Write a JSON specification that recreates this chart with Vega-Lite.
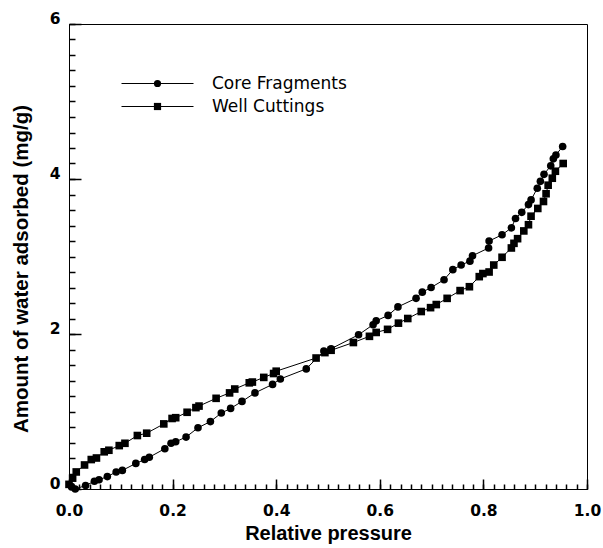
{
  "$schema": "https://vega.github.io/schema/vega-lite/v6.json",
  "autosize": {"type": "none"},
  "width": 518,
  "height": 465,
  "padding": {"left": 69, "top": 24, "right": 16, "bottom": 59},
  "background": "white",
  "data": {"values": [
    {"s": "Core Fragments", "i": 1, "x": 0.005, "y": 0.03},
    {"s": "Core Fragments", "i": 2, "x": 0.012, "y": 0.0},
    {"s": "Core Fragments", "i": 3, "x": 0.032, "y": 0.045},
    {"s": "Core Fragments", "i": 4, "x": 0.049, "y": 0.10},
    {"s": "Core Fragments", "i": 5, "x": 0.058, "y": 0.12},
    {"s": "Core Fragments", "i": 6, "x": 0.074, "y": 0.16},
    {"s": "Core Fragments", "i": 7, "x": 0.091, "y": 0.22},
    {"s": "Core Fragments", "i": 8, "x": 0.103, "y": 0.24},
    {"s": "Core Fragments", "i": 9, "x": 0.129, "y": 0.33},
    {"s": "Core Fragments", "i": 10, "x": 0.146, "y": 0.38},
    {"s": "Core Fragments", "i": 11, "x": 0.155, "y": 0.41},
    {"s": "Core Fragments", "i": 12, "x": 0.185, "y": 0.52},
    {"s": "Core Fragments", "i": 13, "x": 0.197, "y": 0.59},
    {"s": "Core Fragments", "i": 14, "x": 0.206, "y": 0.61},
    {"s": "Core Fragments", "i": 15, "x": 0.226, "y": 0.67},
    {"s": "Core Fragments", "i": 16, "x": 0.249, "y": 0.79},
    {"s": "Core Fragments", "i": 17, "x": 0.273, "y": 0.87},
    {"s": "Core Fragments", "i": 18, "x": 0.294, "y": 0.98},
    {"s": "Core Fragments", "i": 19, "x": 0.312, "y": 1.04},
    {"s": "Core Fragments", "i": 20, "x": 0.334, "y": 1.13},
    {"s": "Core Fragments", "i": 21, "x": 0.359, "y": 1.24},
    {"s": "Core Fragments", "i": 22, "x": 0.393, "y": 1.35},
    {"s": "Core Fragments", "i": 23, "x": 0.408, "y": 1.42},
    {"s": "Core Fragments", "i": 24, "x": 0.458, "y": 1.55},
    {"s": "Core Fragments", "i": 25, "x": 0.492, "y": 1.78},
    {"s": "Core Fragments", "i": 26, "x": 0.506, "y": 1.81},
    {"s": "Core Fragments", "i": 27, "x": 0.559, "y": 1.99},
    {"s": "Core Fragments", "i": 28, "x": 0.587, "y": 2.12},
    {"s": "Core Fragments", "i": 29, "x": 0.593, "y": 2.17},
    {"s": "Core Fragments", "i": 30, "x": 0.616, "y": 2.24},
    {"s": "Core Fragments", "i": 31, "x": 0.635, "y": 2.35},
    {"s": "Core Fragments", "i": 32, "x": 0.670, "y": 2.46},
    {"s": "Core Fragments", "i": 33, "x": 0.682, "y": 2.54},
    {"s": "Core Fragments", "i": 34, "x": 0.699, "y": 2.60},
    {"s": "Core Fragments", "i": 35, "x": 0.724, "y": 2.70},
    {"s": "Core Fragments", "i": 36, "x": 0.741, "y": 2.83},
    {"s": "Core Fragments", "i": 37, "x": 0.757, "y": 2.89},
    {"s": "Core Fragments", "i": 38, "x": 0.774, "y": 2.94},
    {"s": "Core Fragments", "i": 39, "x": 0.779, "y": 3.01},
    {"s": "Core Fragments", "i": 40, "x": 0.810, "y": 3.11},
    {"s": "Core Fragments", "i": 41, "x": 0.811, "y": 3.20},
    {"s": "Core Fragments", "i": 42, "x": 0.836, "y": 3.28},
    {"s": "Core Fragments", "i": 43, "x": 0.854, "y": 3.37},
    {"s": "Core Fragments", "i": 44, "x": 0.862, "y": 3.49},
    {"s": "Core Fragments", "i": 45, "x": 0.874, "y": 3.57},
    {"s": "Core Fragments", "i": 46, "x": 0.887, "y": 3.67},
    {"s": "Core Fragments", "i": 47, "x": 0.892, "y": 3.73},
    {"s": "Core Fragments", "i": 48, "x": 0.904, "y": 3.88},
    {"s": "Core Fragments", "i": 49, "x": 0.910, "y": 3.97},
    {"s": "Core Fragments", "i": 50, "x": 0.917, "y": 4.06},
    {"s": "Core Fragments", "i": 51, "x": 0.930, "y": 4.17},
    {"s": "Core Fragments", "i": 52, "x": 0.935, "y": 4.26},
    {"s": "Core Fragments", "i": 53, "x": 0.940, "y": 4.31},
    {"s": "Core Fragments", "i": 54, "x": 0.953, "y": 4.42},
    {"s": "Well Cuttings", "i": 1, "x": 0.000, "y": 0.06},
    {"s": "Well Cuttings", "i": 2, "x": 0.007, "y": 0.14},
    {"s": "Well Cuttings", "i": 3, "x": 0.014, "y": 0.22},
    {"s": "Well Cuttings", "i": 4, "x": 0.030, "y": 0.31},
    {"s": "Well Cuttings", "i": 5, "x": 0.043, "y": 0.38},
    {"s": "Well Cuttings", "i": 6, "x": 0.053, "y": 0.40},
    {"s": "Well Cuttings", "i": 7, "x": 0.068, "y": 0.48},
    {"s": "Well Cuttings", "i": 8, "x": 0.077, "y": 0.50},
    {"s": "Well Cuttings", "i": 9, "x": 0.097, "y": 0.56},
    {"s": "Well Cuttings", "i": 10, "x": 0.108, "y": 0.59},
    {"s": "Well Cuttings", "i": 11, "x": 0.132, "y": 0.69},
    {"s": "Well Cuttings", "i": 12, "x": 0.150, "y": 0.72},
    {"s": "Well Cuttings", "i": 13, "x": 0.183, "y": 0.84},
    {"s": "Well Cuttings", "i": 14, "x": 0.199, "y": 0.91},
    {"s": "Well Cuttings", "i": 15, "x": 0.206, "y": 0.92},
    {"s": "Well Cuttings", "i": 16, "x": 0.228, "y": 0.99},
    {"s": "Well Cuttings", "i": 17, "x": 0.245, "y": 1.05},
    {"s": "Well Cuttings", "i": 18, "x": 0.251, "y": 1.07},
    {"s": "Well Cuttings", "i": 19, "x": 0.284, "y": 1.17},
    {"s": "Well Cuttings", "i": 20, "x": 0.310, "y": 1.24},
    {"s": "Well Cuttings", "i": 21, "x": 0.320, "y": 1.29},
    {"s": "Well Cuttings", "i": 22, "x": 0.348, "y": 1.37},
    {"s": "Well Cuttings", "i": 23, "x": 0.354, "y": 1.38},
    {"s": "Well Cuttings", "i": 24, "x": 0.376, "y": 1.44},
    {"s": "Well Cuttings", "i": 25, "x": 0.395, "y": 1.49},
    {"s": "Well Cuttings", "i": 26, "x": 0.400, "y": 1.52},
    {"s": "Well Cuttings", "i": 27, "x": 0.477, "y": 1.69},
    {"s": "Well Cuttings", "i": 28, "x": 0.494, "y": 1.76},
    {"s": "Well Cuttings", "i": 29, "x": 0.506, "y": 1.79},
    {"s": "Well Cuttings", "i": 30, "x": 0.549, "y": 1.89},
    {"s": "Well Cuttings", "i": 31, "x": 0.580, "y": 1.97},
    {"s": "Well Cuttings", "i": 32, "x": 0.593, "y": 2.02},
    {"s": "Well Cuttings", "i": 33, "x": 0.615, "y": 2.06},
    {"s": "Well Cuttings", "i": 34, "x": 0.636, "y": 2.14},
    {"s": "Well Cuttings", "i": 35, "x": 0.654, "y": 2.20},
    {"s": "Well Cuttings", "i": 36, "x": 0.680, "y": 2.29},
    {"s": "Well Cuttings", "i": 37, "x": 0.698, "y": 2.34},
    {"s": "Well Cuttings", "i": 38, "x": 0.709, "y": 2.38},
    {"s": "Well Cuttings", "i": 39, "x": 0.730, "y": 2.46},
    {"s": "Well Cuttings", "i": 40, "x": 0.755, "y": 2.56},
    {"s": "Well Cuttings", "i": 41, "x": 0.773, "y": 2.61},
    {"s": "Well Cuttings", "i": 42, "x": 0.792, "y": 2.74},
    {"s": "Well Cuttings", "i": 43, "x": 0.799, "y": 2.78},
    {"s": "Well Cuttings", "i": 44, "x": 0.811, "y": 2.80},
    {"s": "Well Cuttings", "i": 45, "x": 0.820, "y": 2.89},
    {"s": "Well Cuttings", "i": 46, "x": 0.836, "y": 2.99},
    {"s": "Well Cuttings", "i": 47, "x": 0.854, "y": 3.11},
    {"s": "Well Cuttings", "i": 48, "x": 0.859, "y": 3.17},
    {"s": "Well Cuttings", "i": 49, "x": 0.866, "y": 3.23},
    {"s": "Well Cuttings", "i": 50, "x": 0.878, "y": 3.33},
    {"s": "Well Cuttings", "i": 51, "x": 0.887, "y": 3.41},
    {"s": "Well Cuttings", "i": 52, "x": 0.892, "y": 3.52},
    {"s": "Well Cuttings", "i": 53, "x": 0.905, "y": 3.62},
    {"s": "Well Cuttings", "i": 54, "x": 0.916, "y": 3.71},
    {"s": "Well Cuttings", "i": 55, "x": 0.921, "y": 3.81},
    {"s": "Well Cuttings", "i": 56, "x": 0.925, "y": 3.92},
    {"s": "Well Cuttings", "i": 57, "x": 0.933, "y": 4.01},
    {"s": "Well Cuttings", "i": 58, "x": 0.939, "y": 4.10},
    {"s": "Well Cuttings", "i": 59, "x": 0.954, "y": 4.20}
  ]},
  "resolve": {"axis": {"x": "independent", "y": "independent"}},
  "layer": [
    {
      "mark": {"type": "line", "strokeWidth": 1},
      "encoding": {
        "x": {"field": "x", "type": "quantitative",
          "scale": {"domain": [0, 1], "nice": false, "zero": false},
          "axis": {"orient": "bottom", "values": [0, 0.2, 0.4, 0.6, 0.8, 1.0], "format": ".1f",
            "tickSize": -10, "labelPadding": 24.5, "labelFlush": false, "labelOverlap": false, "grid": false,
            "title": "Relative pressure", "titlePadding": 4}},
        "y": {"field": "y", "type": "quantitative",
          "scale": {"domain": [0, 6], "nice": false, "zero": false},
          "axis": {"orient": "left", "values": [0, 2, 4, 6], "format": "d",
            "tickSize": -12, "labelPadding": 21, "labelOffset": -6, "labelFlush": false, "labelOverlap": false, "grid": false,
            "title": "Amount of water adsorbed (mg/g)", "titlePadding": 18, "titleY": 244.5, "titleFontSize": 20.5}},
        "color": {"field": "s", "type": "nominal", "scale": {"range": ["black", "black"]},
          "legend": {"title": null, "orient": "none", "legendX": 80, "legendY": 51, "padding": 0,
            "rowPadding": 5, "labelOffset": 46, "labelFont": "DejaVu Sans", "labelFontSize": 17,
            "labelOpacity": 0, "symbolType": "M-7.2,0H7.2", "symbolSize": 100, "symbolStrokeWidth": 1,
            "symbolStrokeColor": "black"}},
        "order": {"field": "i", "type": "quantitative"}
      }
    },
    {
      "mark": {"type": "point", "filled": true, "color": "black", "opacity": 1, "size": 58, "strokeWidth": 0},
      "encoding": {
        "x": {"field": "x", "type": "quantitative",
          "axis": {"orient": "bottom", "offset": -5, "values": [0, 0.02, 0.04, 0.06, 0.08, 0.1, 0.12, 0.14, 0.16, 0.18, 0.2, 0.22, 0.24, 0.26, 0.28, 0.3, 0.32, 0.34, 0.36, 0.38, 0.4, 0.42, 0.44, 0.46, 0.48, 0.5, 0.52, 0.54, 0.56, 0.58, 0.6, 0.62, 0.64, 0.66, 0.68, 0.7, 0.72, 0.74, 0.76, 0.78, 0.8, 0.82, 0.84, 0.86, 0.88, 0.9, 0.92, 0.94, 0.96, 0.98, 1.0],
            "tickSize": 5, "labels": false, "domain": false, "grid": false, "title": null}},
        "y": {"field": "y", "type": "quantitative",
          "axis": {"orient": "left", "offset": -6, "values": [0, 0.2, 0.4, 0.6, 0.8, 1, 1.2, 1.4, 1.6, 1.8, 2, 2.2, 2.4, 2.6, 2.8, 3, 3.2, 3.4, 3.6, 3.8, 4, 4.2, 4.4, 4.6, 4.8, 5, 5.2, 5.4, 5.6, 5.8, 6],
            "tickSize": 6, "labels": false, "domain": false, "grid": false, "title": null}},
        "shape": {"field": "s", "type": "nominal",
          "scale": {"domain": ["Core Fragments", "Well Cuttings"], "range": ["circle", "square"]},
          "legend": {"title": null, "orient": "none", "legendX": 80, "legendY": 51, "padding": 0,
            "rowPadding": 5, "labelOffset": 46, "labelFont": "DejaVu Sans", "labelFontSize": 17,
            "labelColor": "black", "symbolSize": 52, "symbolFillColor": "black", "symbolStrokeWidth": 0}}
      }
    }
  ],
  "config": {
    "view": {"stroke": "black", "strokeWidth": 1},
    "axis": {"domainColor": "black", "domainWidth": 1, "tickColor": "black", "tickWidth": 1.5, "tickOpacity": 1,
      "labelColor": "black", "labelFont": "DejaVu Sans", "labelFontWeight": "bold", "labelFontSize": 15.5,
      "titleColor": "black", "titleFont": "Liberation Sans", "titleFontWeight": "bold", "titleFontSize": 20}
  }
}
